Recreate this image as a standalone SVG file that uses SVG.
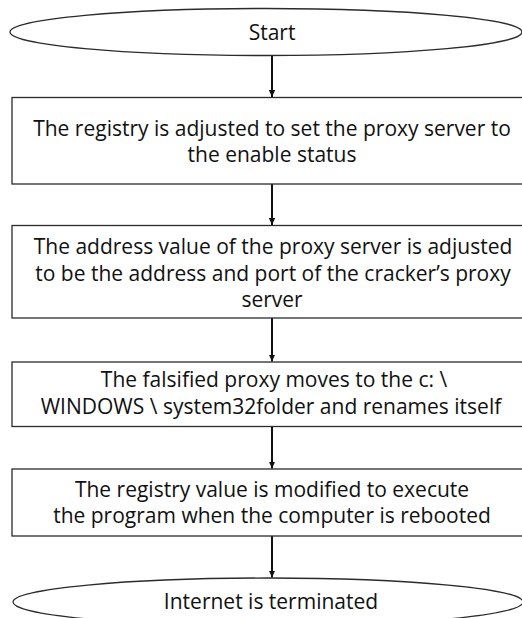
<svg xmlns="http://www.w3.org/2000/svg" width="522" height="618" viewBox="0 0 522 618">
  <style>
    .shape { fill: #ffffff; stroke: #2b2b2b; stroke-width: 1.3; }
    .label { font-family: "Open Sans", "Noto Sans", "Liberation Sans", sans-serif; font-size: 21px; fill: #111111; text-anchor: middle; }
    .flow { stroke: #111111; stroke-width: 2; fill: none; marker-end: url(#head); }
  </style>
  <defs>
    <marker id="head" markerUnits="userSpaceOnUse" markerWidth="8" markerHeight="8" refX="7" refY="4" orient="auto">
      <path d="M0,0.8 L7,4 L0,7.2 Z" fill="#111111"/>
    </marker>
  </defs>
  <rect width="522" height="618" fill="#ffffff"/>

  <g id="connectors">
    <line class="flow" x1="272" y1="56" x2="272" y2="97"/>
    <line class="flow" x1="272" y1="184" x2="272" y2="225"/>
    <line class="flow" x1="272" y1="318" x2="272" y2="361.5"/>
    <line class="flow" x1="272" y1="426.5" x2="272" y2="468.5"/>
    <line class="flow" x1="272" y1="536" x2="272" y2="577.5"/>
  </g>

  <g id="start">
    <ellipse class="shape" cx="266" cy="32" rx="256" ry="23.5"/>
    <text class="label" x="272" y="40">Start</text>
  </g>

  <g id="enable-proxy">
    <rect class="shape" x="12" y="97.5" width="522" height="86.5"/>
    <text class="label" x="272" y="136">The registry is adjusted to set the proxy server to</text>
    <text class="label" x="272" y="162">the enable status</text>
  </g>

  <g id="set-address">
    <rect class="shape" x="12" y="225.5" width="522" height="92.5"/>
    <text class="label" x="273" y="254">The address value of the proxy server is adjusted</text>
    <text class="label" x="273" y="281">to be the address and port of the cracker’s proxy</text>
    <text class="label" x="272" y="307">server</text>
  </g>

  <g id="move-rename">
    <rect class="shape" x="12" y="362" width="522" height="64.5"/>
    <text class="label" x="274" y="387">The falsified proxy moves to the c: \</text>
    <text class="label" x="271" y="414">WINDOWS \ system32folder and renames itself</text>
  </g>

  <g id="autorun">
    <rect class="shape" x="12" y="469" width="522" height="67"/>
    <text class="label" x="272" y="497">The registry value is modified to execute</text>
    <text class="label" x="272" y="523">the program when the computer is rebooted</text>
  </g>

  <g id="end">
    <ellipse class="shape" cx="268" cy="602" rx="255" ry="24"/>
    <text class="label" x="271" y="609">Internet is terminated</text>
  </g>
</svg>
